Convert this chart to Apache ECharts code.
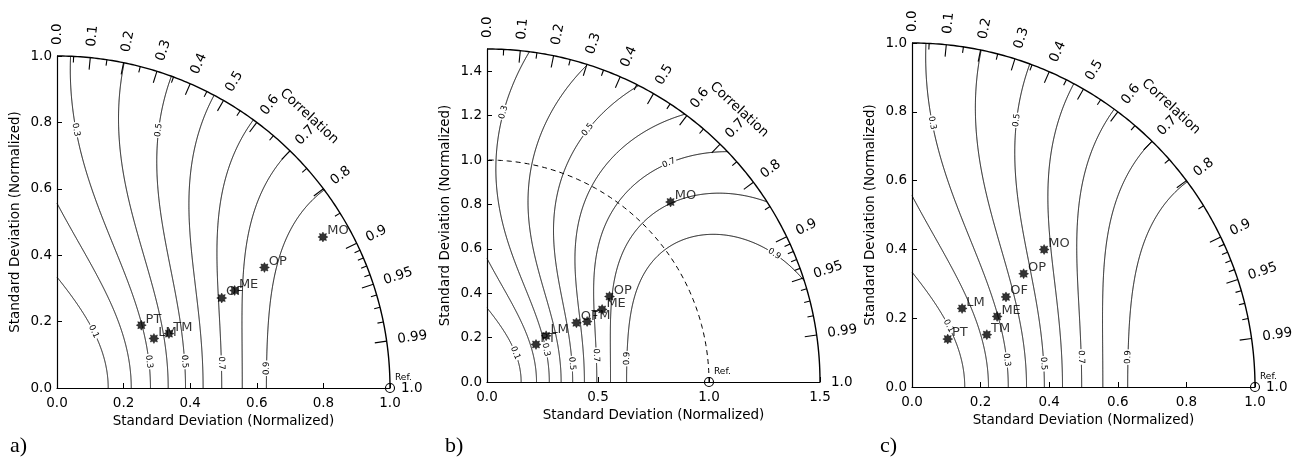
<!DOCTYPE html>
<html>
<head>
<meta charset="utf-8">
<script src="https://cdn.jsdelivr.net/npm/echarts@6/dist/echarts.min.js"></script>
<style>
  html, body { margin: 0; padding: 0; background: #fff; }
  #chart { width: 1293px; height: 457px; }
</style>
</head>
<body>
<div id="chart"></div>
<script>
// model names, same order in every panel
const models = ['PT', 'LM', 'TM', 'OF', 'ME', 'OP', 'MO'];

// normalized standard deviation and correlation
const stdA  = [0.316, 0.327, 0.374, 0.564, 0.609, 0.721, 0.919];
const corrA = [0.801, 0.890, 0.899, 0.877, 0.876, 0.864, 0.869];

const stdB  = [0.278, 0.338, 0.527, 0.483, 0.613, 0.673, 1.158];
const corrB = [0.794, 0.788, 0.856, 0.834, 0.846, 0.820, 0.714];

const stdC  = [0.174, 0.271, 0.266, 0.379, 0.322, 0.463, 0.555];
const corrC = [0.599, 0.539, 0.820, 0.723, 0.771, 0.703, 0.694];

// correlation axis on the outer arc
const corrMajor = [0.1, 0.2, 0.3, 0.4, 0.5, 0.6, 0.7, 0.8, 0.9, 0.95, 0.99];
const corrMinor = [0.05, 0.15, 0.25, 0.35, 0.45, 0.55, 0.65, 0.75, 0.85,
                   0.91, 0.92, 0.93, 0.94, 0.96, 0.97, 0.98];
const corrLabelVals = [0, 0.1, 0.2, 0.3, 0.4, 0.5, 0.6, 0.7, 0.8, 0.9, 0.95, 0.99, 1.0];
const corrLabelText = ['0.0', '0.1', '0.2', '0.3', '0.4', '0.5', '0.6', '0.7', '0.8', '0.9', '0.95', '0.99', '1.0'];

// skill score isolines
const skillLevels = [0.1, 0.2, 0.3, 0.4, 0.5, 0.6, 0.7, 0.8, 0.9];
const R0 = 0.9; // reference correlation of the skill score

const FONT = 'DejaVu Sans';

const panels = [
  { tag: 'a)', tagX: 10, rmax: 1.0, xStep: 0.2, yStep: 0.2, refCircle: false,
    grid: { left: 57, top: 56, width: 333, height: 332 },
    std: stdA, corr: corrA,
    hints: [[0.1, 0.11, 0.17], [0.3, 0.28, 0.08], [0.3, 0.056, 0.777], [0.5, 0.385, 0.08],
            [0.5, 0.306, 0.777], [0.7, 0.495, 0.075], [0.9, 0.63, 0.06]] },
  { tag: 'b)', tagX: 445, rmax: 1.5, xStep: 0.5, yStep: 0.2, refCircle: true,
    grid: { left: 487, top: 49, width: 333, height: 333 },
    std: stdB, corr: corrB,
    hints: [[0.1, 0.12, 0.128], [0.3, 0.255, 0.143], [0.3, 0.075, 1.214], [0.5, 0.388, 0.083],
            [0.5, 0.451, 1.139], [0.7, 0.496, 0.121], [0.7, 0.819, 0.988], [0.9, 0.631, 0.106],
            [0.9, 1.292, 0.573]] },
  { tag: 'c)', tagX: 880, rmax: 1.0, xStep: 0.2, yStep: 0.2, refCircle: false,
    grid: { left: 912, top: 43, width: 343, height: 344 },
    std: stdC, corr: corrC,
    hints: [[0.1, 0.104, 0.176], [0.3, 0.27, 0.078], [0.3, 0.053, 0.766], [0.5, 0.383, 0.068],
            [0.5, 0.306, 0.775], [0.7, 0.493, 0.087], [0.9, 0.631, 0.087]] }
];

// S = 4(1+R)^2 / ((s+1/s)^2 (1+R0)^2)  ->  (1+R)/(s+1/s) = q
function skillContour(level, rmax) {
  const q = Math.sqrt(level) * (1 + R0) / 2;
  const pts = [];
  const N = 700;
  for (let i = 0; i <= N; i++) {
    const th = Math.PI / 2 * i / N, R = Math.cos(th);
    const k = (1 + R) / q;
    if (k >= 2) {
      const d = Math.sqrt(k * k - 4);
      [(k - d) / 2, (k + d) / 2].forEach(s => {
        if (s <= rmax) pts.push([s, s * R, s * Math.sin(th)]);
      });
    }
  }
  for (let i = 1; i <= N; i++) {
    const s = rmax * i / N;
    const R = q * (s + 1 / s) - 1;
    if (R >= 0 && R <= 1) pts.push([s, s * R, s * Math.sqrt(1 - R * R)]);
  }
  pts.sort((a, b) => a[0] - b[0]);
  const segs = [];
  let cur = [];
  pts.forEach(p => {
    if (cur.length) {
      const l = cur[cur.length - 1];
      if (Math.hypot(p[1] - l[1], p[2] - l[2]) > 0.08) { segs.push(cur); cur = []; }
    }
    cur.push(p);
  });
  if (cur.length > 1) segs.push(cur);
  return segs.map(s => s.map(p => [p[1], p[2]]));
}

const starPath = (function () {
  let d = '';
  for (let i = 0; i < 16; i++) {
    const a = Math.PI * i / 8, r = i % 2 ? 0.62 : 1;
    d += (i ? 'L' : 'M') + (r * Math.cos(a)).toFixed(3) + ' ' + (r * Math.sin(a)).toFixed(3) + ' ';
  }
  return 'path://' + d + 'Z';
})();

function makeDecor(p) {
  const contours = skillLevels.map(l => ({ level: l, segs: skillContour(l, p.rmax) }));
  return function (params, api) {
    const kids = [];
    const c = (x, y) => api.coord([x, y]);
    const arcAt = (th, off) => {
      const a = c(p.rmax * Math.cos(th), p.rmax * Math.sin(th));
      return [a[0] + off * Math.cos(th), a[1] - off * Math.sin(th)];
    };
    const txt = (x, y, text, size, rot, align, extra) => ({
      type: 'text', x: x, y: y, rotation: rot || 0,
      style: Object.assign({ text: text, fill: '#000', font: size + 'px "' + FONT + '"',
        align: align || 'left', verticalAlign: 'middle' }, extra || {})
    });

    // isolines
    contours.forEach(ct => ct.segs.forEach(seg => {
      kids.push({ type: 'polyline', shape: { points: seg.map(q => c(q[0], q[1])) },
        style: { stroke: '#000', lineWidth: 1, fill: null } });
    }));
    // isoline labels
    p.hints.forEach(h => {
      const ct = contours.find(k => Math.abs(k.level - h[0]) < 1e-6);
      const target = c(h[1], h[2]);
      let best = null, bd = Infinity;
      ct.segs.forEach(seg => {
        const px = seg.map(q => c(q[0], q[1]));
        px.forEach((q, i) => {
          const d = Math.hypot(q[0] - target[0], q[1] - target[1]);
          if (d < bd) { bd = d; best = { px: px, i: i }; }
        });
      });
      const a = best.px[Math.max(0, best.i - 3)], b = best.px[Math.min(best.px.length - 1, best.i + 3)];
      let ang = Math.atan2(-(b[1] - a[1]), b[0] - a[0]);
      if (ang >= Math.PI / 2 - 1e-6) ang -= Math.PI;
      if (ang < -Math.PI / 2) ang += Math.PI;
      const q = best.px[best.i];
      kids.push(txt(q[0], q[1], h[0].toFixed(1), 8.5, ang, 'center',
        { backgroundColor: '#fff', padding: [0, 1] }));
    });

    // dashed arc at the reference standard deviation
    if (p.refCircle) {
      const pts = [];
      for (let i = 0; i <= 120; i++) {
        const th = Math.PI / 2 * i / 120;
        pts.push(c(Math.cos(th), Math.sin(th)));
      }
      kids.push({ type: 'polyline', shape: { points: pts },
        style: { stroke: '#000', lineWidth: 1, lineDash: [5, 4], fill: null } });
    }

    // outer arc
    const arc = [];
    for (let i = 0; i <= 180; i++) arc.push(arcAt(Math.PI / 2 * i / 180, 0));
    kids.push({ type: 'polyline', shape: { points: arc },
      style: { stroke: '#000', lineWidth: 1.4, fill: null } });

    // correlation ticks
    const tick = (R, len) => {
      const th = Math.acos(R);
      const a = arcAt(th, 0), b = arcAt(th, -len);
      kids.push({ type: 'line', shape: { x1: a[0], y1: a[1], x2: b[0], y2: b[1] },
        style: { stroke: '#000', lineWidth: 1.1 } });
    };
    corrMajor.forEach(R => tick(R, 12));
    corrMinor.forEach(R => tick(R, 6));

    // correlation labels
    corrLabelVals.forEach((R, i) => {
      const th = Math.acos(R);
      const q = arcAt(th, 11);
      kids.push(txt(q[0], q[1], corrLabelText[i], 13.5, th, 'left'));
    });
    const thC = 47.2 * Math.PI / 180;
    const qc = arcAt(thC, 38);
    kids.push(txt(qc[0], qc[1], 'Correlation', 13.5, thC - Math.PI / 2, 'center'));

    // reference point
    const ref = c(1, 0);
    kids.push({ type: 'circle', shape: { cx: ref[0], cy: ref[1], r: 4.5 },
      style: { stroke: '#000', lineWidth: 1.1, fill: null } });
    kids.push(txt(ref[0] + 5, ref[1] - 10, 'Ref.', 9, 0, 'left'));

    return { type: 'group', children: kids };
  };
}

const grid = [], xAxis = [], yAxis = [], series = [], graphic = [];
panels.forEach((p, i) => {
  grid.push(Object.assign({ containLabel: false }, p.grid));
  const common = {
    gridIndex: i, type: 'value', min: 0, max: p.rmax,
    nameLocation: 'middle',
    nameTextStyle: { fontFamily: FONT, fontSize: 13.5, color: '#000' },
    axisLine: { lineStyle: { color: '#000', width: 1.2 } },
    axisTick: { inside: true, length: 5, lineStyle: { color: '#000', width: 1 } },
    splitLine: { show: false }
  };
  xAxis.push(Object.assign({}, common, {
    interval: p.xStep, name: 'Standard Deviation (Normalized)', nameGap: 25,
    axisLabel: { color: '#000', fontFamily: FONT, fontSize: 13.5, margin: 8,
      formatter: v => v.toFixed(1) }
  }));
  yAxis.push(Object.assign({}, common, {
    interval: p.yStep, name: 'Standard Deviation (Normalized)', nameGap: 35,
    axisLabel: { color: '#000', fontFamily: FONT, fontSize: 13.5, margin: 5,
      showMaxLabel: p.rmax === 1,
      formatter: v => v.toFixed(1) }
  }));
  series.push({
    type: 'custom', coordinateSystem: 'cartesian2d', xAxisIndex: i, yAxisIndex: i,
    data: [[0, 0]], renderItem: makeDecor(p), silent: true, clip: false, z: 1
  });
  series.push({
    type: 'scatter', xAxisIndex: i, yAxisIndex: i, z: 3, silent: true,
    symbol: starPath, symbolSize: 10,
    itemStyle: { color: '#000', borderColor: '#000', borderWidth: 0.5 },
    label: { show: true, formatter: '{b}', position: 'right', distance: 0, offset: [-1, -6],
      color: '#000', fontFamily: FONT, fontSize: 13 },
    data: models.map((m, k) => ({
      name: m,
      value: [p.std[k] * p.corr[k], p.std[k] * Math.sqrt(1 - p.corr[k] * p.corr[k])]
    }))
  });
  graphic.push({ type: 'text', x: p.tagX, y: 446,
    style: { text: p.tag, fill: '#000', font: '22px "Liberation Serif"', verticalAlign: 'middle' } });
});

const chart = echarts.init(document.getElementById('chart'), null, { renderer: 'canvas' });
chart.setOption({
  animation: false,
  backgroundColor: '#fff',
  grid: grid, xAxis: xAxis, yAxis: yAxis, series: series, graphic: graphic
});
</script>
</body>
</html>
